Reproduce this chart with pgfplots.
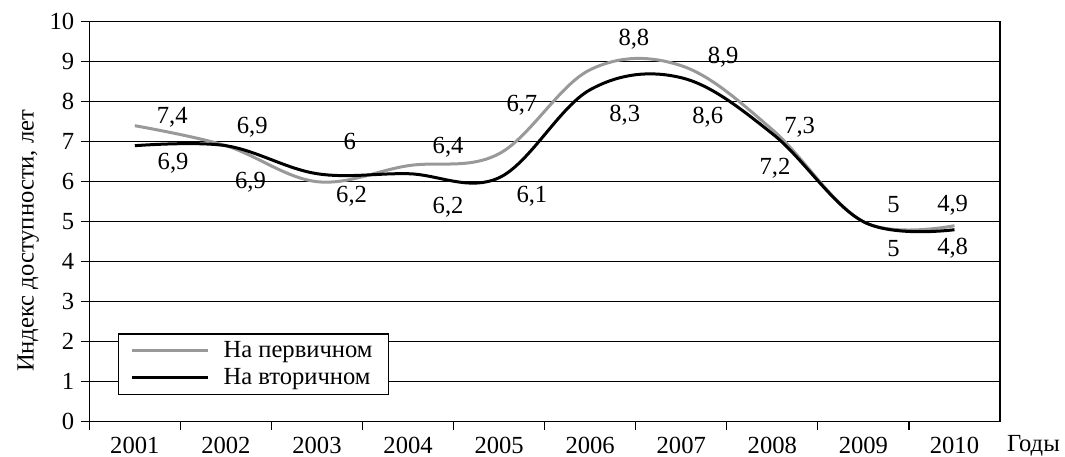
\documentclass[border=0pt]{standalone}
\usepackage{fontspec}
\setmainfont{Liberation Serif}
\usepackage{pgfplots}
\pgfplotsset{compat=1.18}
\definecolor{lightline}{gray}{0.6}

\begin{document}
\begin{tikzpicture}[font=\fontsize{12.3}{14}\selectfont]
\begin{axis}[
    scale only axis,
    width=455.35pt, height=200pt,
    xmin=-0.5, xmax=9.5,
    ymin=0, ymax=10,
    xtick={0,...,9},
    xticklabels={2001,2002,2003,2004,2005,2006,2007,2008,2009,2010},
    major x tick style={draw=none},
    minor xtick={-0.5,0.5,...,8.5},
    ytick={0,...,10},
    tick align=outside,
    xtick pos=bottom, ytick pos=left,
    major tick length=4pt, minor tick length=4pt,
    every tick/.style={black, line width=0.6pt},
    ymajorgrids,
    grid style={black, line width=0.6pt},
    axis line style={line width=0.6pt},
    /pgf/number format/assume math mode=true,
    ylabel={Индекс доступности, лет},
    ylabel style={at={(axis description cs:0,0.452)}, anchor=center, yshift=30.5pt},
    xlabel={Годы},
    xlabel style={at={(axis description cs:1,0)}, anchor=base west, xshift=0pt, yshift=-15pt},
    legend style={at={(rel axis cs:0.0315,0.067)}, anchor=south west,
        draw=black, line width=0.6pt, fill=white,
        inner xsep=6pt, inner ysep=1.5pt, row sep=0pt,
        /tikz/every odd column/.append style={column sep=5pt}},
    legend cell align=left,
    legend image code/.code={\draw[#1, line width=1.5pt] (0pt,0pt) -- (38pt,0pt);},
]

\addplot[lightline, line width=1.5pt, smooth, tension=0.6] coordinates {
    (0,7.4) (1,6.9) (2,6.0) (3,6.4) (4,6.7)
    (5,8.8) (6,8.9) (7,7.3) (8,5.0) (9,4.9)
};
\addlegendentry{На первичном}

\addplot[black, line width=1.5pt, smooth, tension=0.6] coordinates {
    (0,6.9) (1,6.9) (2,6.2) (3,6.2) (4,6.1)
    (5,8.3) (6,8.6) (7,7.2) (8,5.0) (9,4.8)
};
\addlegendentry{На вторичном}

% data labels, placed as in the original
\addplot[forget plot, draw=none, mark=none, nodes near coords,
    point meta=explicit symbolic,
    every node near coord/.style={anchor=center, inner sep=0pt, text=black}]
    table[meta=lab] {
x    y    lab
0.41 7.60 7,4
0.42 6.47 6,9
1.29 7.35 6,9
1.27 5.98 6,9
2.36 7.00 6
2.38 5.63 6,2
3.44 6.87 6,4
3.44 5.37 6,2
4.25 7.92 6,7
4.36 5.63 6,1
5.48 9.57 8,8
5.38 7.67 8,3
6.46 9.10 8,9
6.29 7.62 8,6
7.30 7.37 7,3
7.03 6.34 7,2
8.33 5.42 5
8.98 5.42 4,9
8.33 4.34 5
8.98 4.34 4,8
};

\coordinate (bl) at (rel axis cs:0,0);
\coordinate (tr) at (rel axis cs:1,1);
\end{axis}
\pgfresetboundingbox
\path[use as bounding box] ([shift={(-44.65pt,-17.15pt)}]bl) rectangle ([shift={(32.5pt,10.85pt)}]tr);
\end{tikzpicture}
\end{document}
